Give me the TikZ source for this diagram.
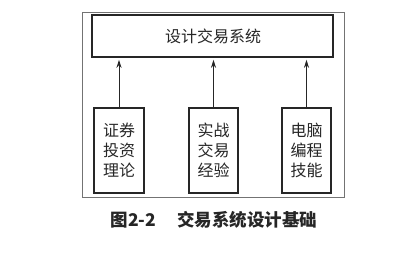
\documentclass[tikz,border=0pt]{standalone}
\usepackage{fontspec}
\newfontfamily\cjk{Noto Sans CJK SC}
\usetikzlibrary{arrows.meta}
\begin{document}
\begin{tikzpicture}[x=1pt,y=-1pt,
  box/.style={draw=black!85,line width=1.6pt,inner sep=0pt},
  lbl/.style={font=\cjk\fontsize{16}{20}\selectfont,text=black!85,align=center},
  arr/.style={-{Stealth[length=8pt,width=5pt]},line width=0.9pt,draw=black!85,shorten >=2pt}]
\useasboundingbox (0,0) rectangle (418,270);
\draw[black!55,line width=0.7pt] (82,12) rectangle (344,197);
\node[box,minimum width=241pt,minimum height=42pt] (top) at (212.5,36) {};
\node[lbl] (toplbl) at (213,36) {设计交易系统};
\node[box,minimum width=50pt,minimum height=85pt] (a) at (119,150.5) {};
\node[box,minimum width=49pt,minimum height=85pt] (b) at (213.5,150.5) {};
\node[box,minimum width=49pt,minimum height=85pt] (c) at (306.5,150.5) {};
\node[lbl] (al) at (a.center) {证券\\投资\\理论};
\node[lbl] (bl) at (b.center) {实战\\交易\\经验};
\node[lbl] (cl) at (c.center) {电脑\\编程\\技能};
\draw[arr] (a.north) -- (a.north |- top.south);
\draw[arr] (b.north) -- (b.north |- top.south);
\draw[arr] (c.north) -- (c.north |- top.south);
\node[font=\cjk\bfseries\fontsize{17.5}{20}\selectfont,text=black!85] (cap) at (214,220) {图2-2\hspace{1.2em}交易系统设计基础};
\end{tikzpicture}
\end{document}
